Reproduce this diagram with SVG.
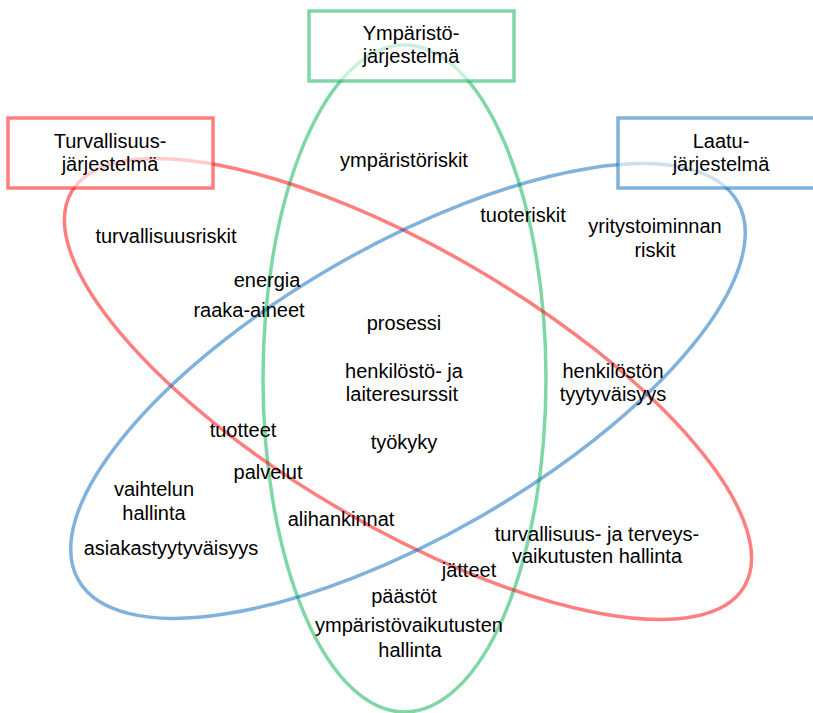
<svg xmlns="http://www.w3.org/2000/svg" width="813" height="713" viewBox="0 0 813 713">
<style>
text{font-family:"Liberation Sans",Arial,sans-serif;font-size:20px;fill:#000;text-anchor:middle}
.e{fill:none;stroke-width:3.5;stroke-opacity:0.5}
.b{fill:#fff;fill-opacity:0.6;stroke-width:3.5;stroke-opacity:0.5}
.r{stroke:#ff0000}
.g{stroke:#00b050}
.u{stroke:#0066bb}
</style>
<rect width="813" height="713" fill="#fff"/>
<g id="connectors">
<ellipse class="e g" cx="404.5" cy="378.5" rx="141.5" ry="333.5"/>
<ellipse class="e r" cx="408" cy="389" rx="390" ry="138" transform="rotate(30.4 408 389)"/>
<ellipse class="e u" cx="408" cy="391" rx="380" ry="145" transform="rotate(-29.9 408 391)"/>
</g>
<g id="ymparisto">
<rect class="b g" x="309" y="11" width="205" height="70"/>
<text x="411" y="40">Ympäristö-</text>
<text x="411" y="63">järjestelmä</text>
</g>
<g id="turvallisuus">
<rect class="b r" x="8" y="118" width="205" height="70"/>
<text x="110" y="148">Turvallisuus-</text>
<text x="110" y="171">järjestelmä</text>
</g>
<g id="laatu">
<rect class="b u" x="618" y="118" width="206" height="70"/>
<text x="721" y="148">Laatu-</text>
<text x="721" y="171">järjestelmä</text>
</g>
<g id="labels">
<text x="404" y="167">ympäristöriskit</text>
<text x="523" y="222">tuoteriskit</text>
<text x="655" y="233">yritystoiminnan</text>
<text x="655" y="257">riskit</text>
<text x="166" y="243">turvallisuusriskit</text>
<text x="267" y="287">energia</text>
<text x="249" y="317">raaka-aineet</text>
<text x="404" y="330">prosessi</text>
<text x="404" y="378">henkilöstö- ja</text>
<text x="402" y="401">laiteresurssit</text>
<text x="613" y="378">henkilöstön</text>
<text x="613" y="401">tyytyväisyys</text>
<text x="243" y="437">tuotteet</text>
<text x="404" y="449">työkyky</text>
<text x="268" y="479">palvelut</text>
<text x="154" y="496">vaihtelun</text>
<text x="154" y="520">hallinta</text>
<text x="341" y="526">alihankinnat</text>
<text x="171" y="555">asiakastyytyväisyys</text>
<text x="597" y="541">turvallisuus- ja terveys-</text>
<text x="597" y="563">vaikutusten hallinta</text>
<text x="469" y="577">jätteet</text>
<text x="404" y="603">päästöt</text>
<text x="409" y="632">ympäristövaikutusten</text>
<text x="410" y="657">hallinta</text>
</g>
</svg>
